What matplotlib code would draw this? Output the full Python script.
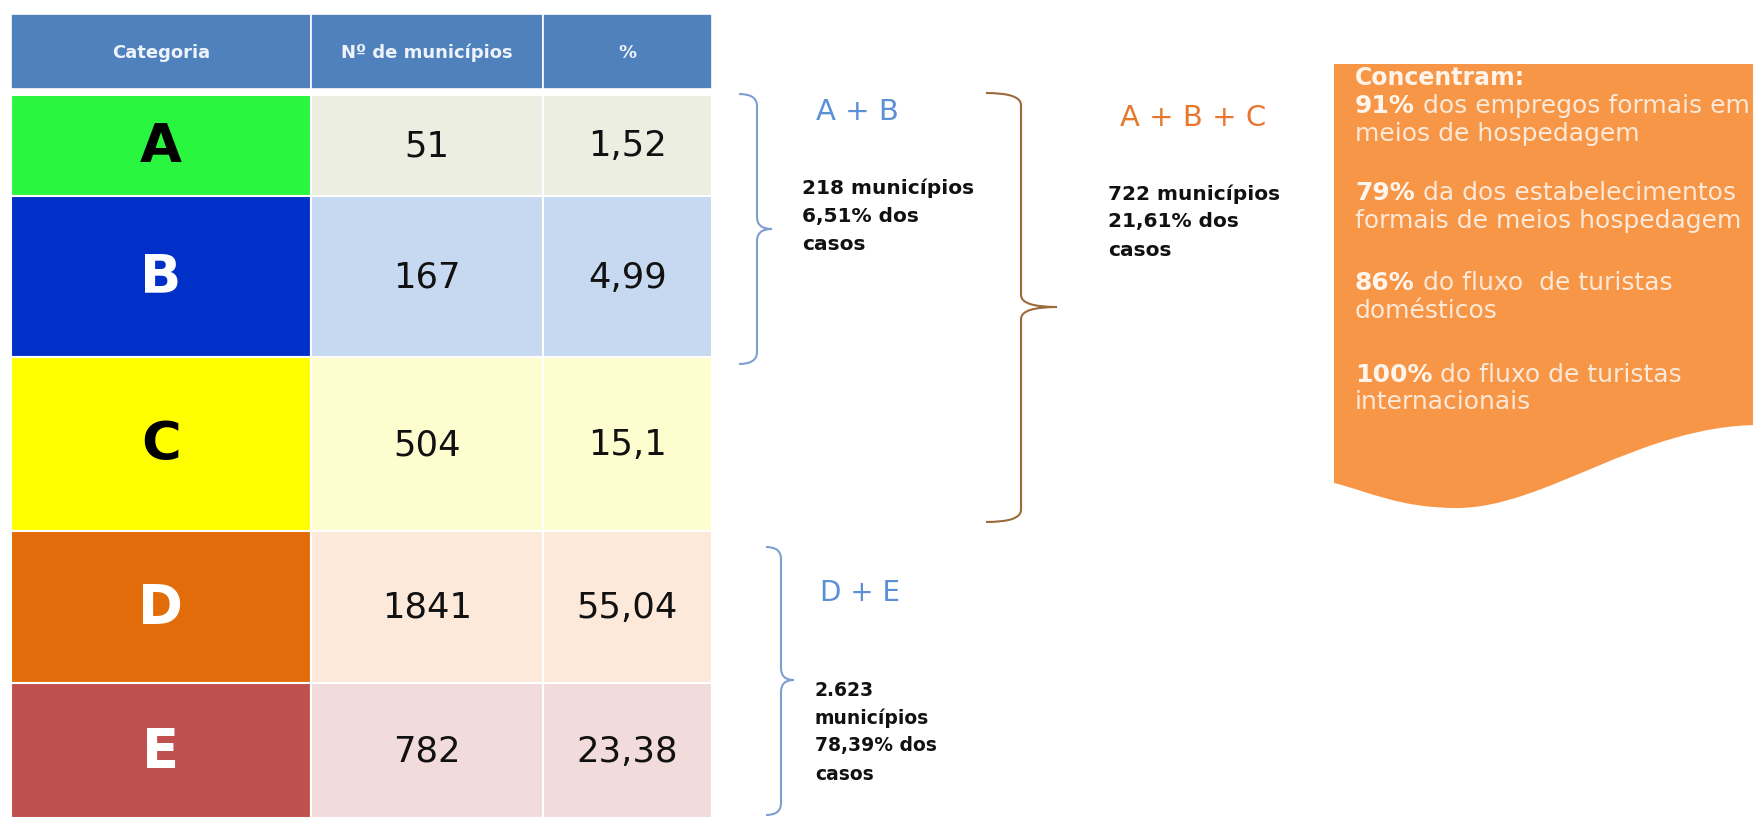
import matplotlib
matplotlib.use("Agg")
import matplotlib.pyplot as plt
from matplotlib.patches import Rectangle, PathPatch
from matplotlib.path import Path

# table data
header_labels = ["Categoria", "Nº de municípios", "%"]
categories = ["A", "B", "C", "D", "E"]
municipios = [51, 167, 504, 1841, 782]
percentuais = [1.52, 4.99, 15.1, 55.04, 23.38]

cat_colors = ["#2af53f", "#0030c8", "#ffff00", "#e36c0a", "#c0504d"]
cat_text_colors = ["black", "white", "black", "white", "white"]
cell_colors = ["#ebeee0", "#c6d9f0", "#fefdd0", "#fce9da", "#f2dcdb"]

# group annotations
group_ab = ["218 municípios", "6,51% dos", "casos"]
group_abc = ["722 municípios", "21,61% dos", "casos"]
group_de = ["2.623", "municípios", "78,39% dos", "casos"]

box_title = "Concentram:"
box_lines = [
    ("91%", " dos empregos formais em"),
    ("", "meios de hospedagem"),
    ("79%", " da dos estabelecimentos"),
    ("", "formais de meios hospedagem"),
    ("86%", " do fluxo  de turistas"),
    ("", "domésticos"),
    ("100%", " do fluxo de turistas"),
    ("", "internacionais"),
]

# layout (pixels of the 1753x818 canvas)
W, H = 1753, 818
col_edges = [11, 311, 543, 712]
header_top, header_bot = 14, 89
row_edges = [95, 196, 357, 531, 683, 818]

fig = plt.figure(figsize=(W / 100, H / 100), dpi=100)
ax = fig.add_axes([0, 0, 1, 1])
ax.set_xlim(0, W)
ax.set_ylim(H, 0)
ax.axis("off")

# header
for j, lab in enumerate(header_labels):
    x0, x1 = col_edges[j], col_edges[j + 1]
    ax.add_patch(Rectangle((x0, header_top), x1 - x0, header_bot - header_top,
                           facecolor="#4f81bd", edgecolor="white", lw=1.2))
    ax.text((x0 + x1) / 2, (header_top + header_bot) / 2 + 1, lab, ha="center", va="center",
            fontsize=13, fontweight="bold", color="#eef3fa")

# rows
for i, cat in enumerate(categories):
    y0, y1 = row_edges[i], row_edges[i + 1]
    yc = (y0 + y1) / 2 + 1
    ax.add_patch(Rectangle((col_edges[0], y0), col_edges[1] - col_edges[0], y1 - y0,
                           facecolor=cat_colors[i], edgecolor="white", lw=1.5))
    for j in (1, 2):
        ax.add_patch(Rectangle((col_edges[j], y0), col_edges[j + 1] - col_edges[j], y1 - y0,
                               facecolor=cell_colors[i], edgecolor="white", lw=1.5))
    ax.text((col_edges[0] + col_edges[1]) / 2, yc, cat, ha="center", va="center",
            fontsize=39, fontweight="bold", color=cat_text_colors[i])
    ax.text((col_edges[1] + col_edges[2]) / 2, yc, str(municipios[i]), ha="center", va="center",
            fontsize=25.5, color="#111111")
    ax.text((col_edges[2] + col_edges[3]) / 2, yc, str(percentuais[i]).replace(".", ","),
            ha="center", va="center", fontsize=25.5, color="#111111")


def brace(x0, xv, xt, ytop, ymid, ybot, color, r=12):
    verts = [(x0, ytop), (xv, ytop), (xv, ytop + r), (xv, ymid - r), (xv, ymid), (xt, ymid),
             (xt, ymid), (xv, ymid), (xv, ymid + r), (xv, ybot - r), (xv, ybot), (x0, ybot)]
    codes = [Path.MOVETO, Path.CURVE3, Path.CURVE3, Path.LINETO, Path.CURVE3, Path.CURVE3,
             Path.MOVETO, Path.CURVE3, Path.CURVE3, Path.LINETO, Path.CURVE3, Path.CURVE3]
    ax.add_patch(PathPatch(Path(verts, codes), facecolor="none", edgecolor=color, lw=1.5))


brace(739, 757, 772, 94, 229, 364, "#7f9fcf")
brace(986, 1021, 1057, 93, 307, 522, "#9c6b3c")
brace(766, 781, 794, 547, 680, 815, "#7f9fcf")

# group labels
ax.text(816, 112, "A + B", ha="left", va="center", fontsize=21, color="#5b8fd6")
ax.text(1120, 118, "A + B + C", ha="left", va="center", fontsize=21, color="#e8772e")
ax.text(820, 593, "D + E", ha="left", va="center", fontsize=20, color="#5b8fd6")

for k, line in enumerate(group_ab):
    ax.text(802, 188 + 28.5 * k, line, ha="left", va="center", fontsize=14.5,
            fontweight="bold", color="#111111")
for k, line in enumerate(group_abc):
    ax.text(1108, 194 + 28 * k, line, ha="left", va="center", fontsize=14.5,
            fontweight="bold", color="#111111")
for k, line in enumerate(group_de):
    ax.text(815, 690 + 28 * k, line, ha="left", va="center", fontsize=13.5,
            fontweight="bold", color="#111111")

# orange note box with wavy bottom
bverts = [(1334, 64), (1760, 64), (1760, 425),
          (1640, 425), (1545, 508), (1457, 508),
          (1400, 508), (1370, 492), (1334, 483), (1334, 64)]
bcodes = [Path.MOVETO, Path.LINETO, Path.LINETO,
          Path.CURVE4, Path.CURVE4, Path.CURVE4,
          Path.CURVE4, Path.CURVE4, Path.CURVE4, Path.CLOSEPOLY]
ax.add_patch(PathPatch(Path(bverts, bcodes), facecolor="#f79646", edgecolor="none"))

ax.text(1355, 78, box_title, ha="left", va="center", fontsize=17, fontweight="bold",
        color="#fff4ea")
renderer = fig.canvas.get_renderer()
line_y = [106, 134, 193, 221, 283, 311, 375, 402]
for (bold, rest), y in zip(box_lines, line_y):
    x = 1355
    if bold:
        t = ax.text(x, y, bold, ha="left", va="center", fontsize=18, fontweight="bold",
                    color="#fff6ee")
        bb = t.get_window_extent(renderer)
        x = ax.transData.inverted().transform((bb.x1, bb.y0))[0]
    ax.text(x, y, rest, ha="left", va="center", fontsize=18, color="#fde9d9")

fig.savefig("out.png", dpi=100)
plt.close(fig)
